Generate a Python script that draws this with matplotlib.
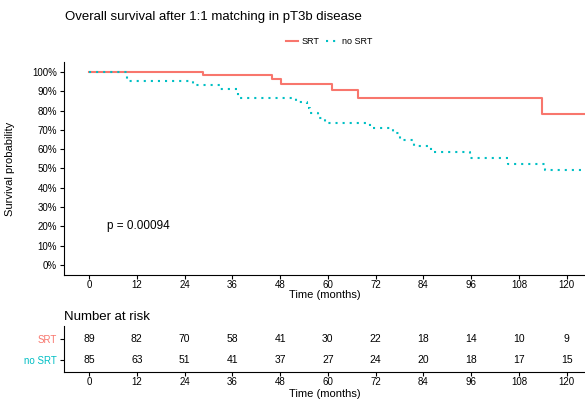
import matplotlib
matplotlib.use("Agg")
import matplotlib.pyplot as plt
from matplotlib.lines import Line2D

plt.rcParams['font.family'] = ['Liberation Sans', 'DejaVu Sans']

# Kaplan-Meier step data (months, survival %)
srt_times = [0, 28.6, 45.9, 48.2, 61.0, 67.5, 113.9, 125]
srt_surv = [100, 98.6, 96.2, 93.8, 90.7, 86.7, 78.0, 78.0]

nosrt_times = [0, 9.5, 26.2, 32.9, 37.5, 52.0, 54.8, 55.4, 57.5, 59.2,
               70.5, 76.4, 78.1, 81.7, 85.9, 95.7, 105.3, 114.6, 125]
nosrt_surv = [100, 95.5, 93.3, 91.2, 86.7, 84.3, 81.5, 78.9, 76.3, 73.7,
              70.8, 68.2, 64.6, 61.7, 58.5, 55.6, 52.5, 49.4, 49.4]

risk_times = [0, 12, 24, 36, 48, 60, 72, 84, 96, 108, 120]
risk_srt = [89, 82, 70, 58, 41, 30, 22, 18, 14, 10, 9]
risk_nosrt = [85, 63, 51, 41, 37, 27, 24, 20, 18, 17, 15]

red = '#F8766D'
cyan = '#00BFC4'
W, H = 585, 403

fig = plt.figure(figsize=(W / 100, H / 100), dpi=100)

def style(ax):
    for s in ['top', 'right']:
        ax.spines[s].set_visible(False)
    for s in ['left', 'bottom']:
        ax.spines[s].set_linewidth(0.8)
    ax.tick_params(length=3, width=0.8, labelsize=7, colors='black', pad=2)
    ax.tick_params(axis='x', pad=1)

# main survival plot
ax = fig.add_axes([64 / W, 1 - 274.6 / H, 521 / W, (274.6 - 62.3) / H])
ax.step(srt_times, srt_surv, where='post', color=red, lw=1.5)
ax.step(nosrt_times, nosrt_surv, where='post', color=cyan, lw=1.5,
        linestyle=(0, (1, 2.4)))
ax.set_xlim(-6.3, 124.6)
ax.set_ylim(-5, 105)
ax.set_xticks(risk_times)
ax.set_yticks(range(0, 101, 10))
ax.set_yticklabels([f'{v}%' for v in range(0, 101, 10)])
style(ax)
ax.set_xlabel('Time (months)', fontsize=8, labelpad=0)
ax.set_ylabel('Survival probability', fontsize=8)
ax.yaxis.set_label_coords(-49 / 521, 0.5)
ax.text(4.4, 20, 'p = 0.00094', fontsize=8.5, va='center', ha='left')

fig.text(65 / W, 1 - 17 / H, 'Overall survival after 1:1 matching in pT3b disease',
         fontsize=9.5, va='center', ha='left')

handles = [Line2D([], [], color=red, lw=1.5),
           Line2D([], [], color=cyan, lw=1.5, linestyle=(0, (1, 2.4)))]
fig.legend(handles, ['SRT', 'no SRT'], loc='center', ncol=2,
           bbox_to_anchor=(329 / W, 1 - 42 / H), frameon=False, fontsize=6.5,
           handlelength=1.3, handletextpad=0.4, columnspacing=0.8)

# risk table
ax2 = fig.add_axes([64 / W, 1 - 371.7 / H, 521 / W, 45.7 / H])
ax2.set_xlim(-6.3, 124.6)
ax2.set_ylim(0.46, 2.63)
for t, a, b in zip(risk_times, risk_srt, risk_nosrt):
    ax2.text(t, 2, str(a), ha='center', va='center', fontsize=7.5)
    ax2.text(t, 1, str(b), ha='center', va='center', fontsize=7.5)
ax2.set_xticks(risk_times)
ax2.set_yticks([1, 2])
ax2.set_yticklabels(['no SRT', 'SRT'])
style(ax2)
for lab, c in zip(ax2.get_yticklabels(), [cyan, red]):
    lab.set_color(c)
ax2.set_xlabel('Time (months)', fontsize=8, labelpad=1)
ax2.set_title('Number at risk', fontsize=9.5, loc='left', pad=4, x=0.0)

fig.savefig('out.png', dpi=100)
